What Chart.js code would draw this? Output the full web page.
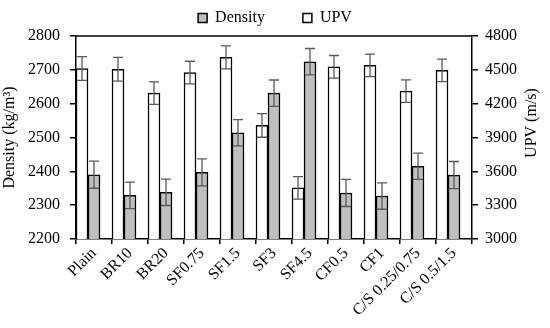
<!DOCTYPE html>
<html>
<head>
<meta charset="utf-8">
<script src="https://cdn.jsdelivr.net/npm/chart.js@4.4.1/dist/chart.umd.min.js"></script>
<style>
  html, body { margin: 0; padding: 0; background: #fff; }
  #wrap { width: 550px; height: 328px; }
</style>
</head>
<body>
<div id="wrap"><canvas id="myChart"></canvas></div>
<script>
const labels = ['Plain', 'BR10', 'BR20', 'SF0.75', 'SF1.5', 'SF3', 'SF4.5', 'CF0.5', 'CF1', 'C/S 0.25/0.75', 'C/S 0.5/1.5'];

// UPV (m/s), right axis
const upv = [4512, 4505, 4293, 4476, 4610, 4007, 3453, 4527, 4539, 4311, 4495];
const upvErr = [105, 105, 100, 100, 102, 105, 100, 100, 100, 100, 100];

// Density (kg/m3), left axis
const density = [2390, 2329, 2338, 2397, 2514, 2631, 2724, 2336, 2327, 2415, 2389];
const densityErr = [40, 39, 39, 40, 39, 39, 39, 40, 39, 39, 40];

const upvTitle = 'UPV (m/s)';

const ctx = document.getElementById('myChart').getContext('2d');
const font = { family: '"Liberation Serif", "Times New Roman", serif', size: 16 };

// draws error bars, the top frame line and the right axis title
const errorBars = {
  id: 'errorBars',
  afterDatasetsDraw(chart) {
    const c = chart.ctx;
    c.save();
    c.strokeStyle = '#595959';
    c.lineWidth = 1.3;
    chart.data.datasets.forEach((ds, i) => {
      if (!ds.err) return;
      const meta = chart.getDatasetMeta(i);
      const scale = chart.scales[meta.yAxisID];
      meta.data.forEach((bar, j) => {
        const v = ds.data[j];
        const e = ds.err[j];
        const yTop = scale.getPixelForValue(v + e);
        const yBot = scale.getPixelForValue(v - e);
        c.beginPath();
        c.moveTo(bar.x, yTop);
        c.lineTo(bar.x, yBot);
        c.moveTo(bar.x - 5, yTop);
        c.lineTo(bar.x + 5, yTop);
        c.moveTo(bar.x - 5, yBot);
        c.lineTo(bar.x + 5, yBot);
        c.stroke();
      });
    });
    const a = chart.chartArea;
    c.strokeStyle = '#000';
    c.lineWidth = 1.5;
    c.beginPath();
    c.moveTo(a.left, a.top);
    c.lineTo(a.right, a.top);
    c.stroke();

    // right title reads bottom-to-top like the left one
    c.translate(chart.scales.y1.right - 18, a.top + 87);
    c.rotate(-Math.PI / 2);
    c.fillStyle = '#000';
    c.font = '16px "Liberation Serif", serif';
    c.textAlign = 'center';
    c.textBaseline = 'middle';
    c.fillText(upvTitle, 0, 0);
    c.restore();
  }
};

const chart = new Chart(ctx, {
  type: 'bar',
  data: {
    labels: labels,
    datasets: [
      {
        label: 'UPV',
        data: upv,
        err: upvErr,
        yAxisID: 'y1',
        backgroundColor: '#ffffff',
        borderColor: '#000000',
        borderWidth: 1.5,
      },
      {
        label: 'Density',
        data: density,
        err: densityErr,
        yAxisID: 'y',
        backgroundColor: '#bfbfbf',
        borderColor: '#000000',
        borderWidth: 1.5,
      },
      {
        // empty spacer slot, keeps the pair at the left of each category
        label: '',
        data: [],
        yAxisID: 'y',
      },
    ],
  },
  options: {
    responsive: true,
    maintainAspectRatio: false,
    animation: false,
    categoryPercentage: 1,
    barPercentage: 1,
    layout: { padding: 0 },
    plugins: {
      tooltip: { enabled: false },
      legend: {
        position: 'top',
        labels: {
          font: font,
          color: '#000',
          boxWidth: 9,
          boxHeight: 9,
          padding: 10,
          // wider gap after the first entry, like the original
          generateLabels: (ch) => {
            const items = Chart.defaults.plugins.legend.labels.generateLabels(ch);
            items.forEach((it) => {
              if (it.text === 'Density') it.text = 'Density\u00a0\u00a0\u00a0\u00a0\u00a0\u00a0\u00a0';
            });
            return items;
          },
          filter: (item) => item.text !== '',
          sort: (a, b) => b.datasetIndex - a.datasetIndex,
        },
      },
    },
    scales: {
      x: {
        grid: { drawOnChartArea: false, color: '#000', tickLength: 5, lineWidth: 1.5 },
        border: { color: '#000', width: 1.5 },
        ticks: { font: font, color: '#000', maxRotation: 45, minRotation: 45, padding: 0 },
        afterFit: (s) => { s.height = 89; },
      },
      y: {
        position: 'left',
        min: 2200,
        max: 2800,
        ticks: { stepSize: 100, font: font, color: '#000', padding: 10, callback: (v) => String(v) },
        grid: { drawOnChartArea: false, color: '#000', tickLength: 6, lineWidth: 1.5 },
        border: { color: '#000', width: 1.5 },
        title: { display: true, text: 'Density (kg/m³)', font: font, color: '#000', padding: { top: 0, bottom: 0 } },
        afterFit: (s) => { s.width = 76; },
      },
      y1: {
        position: 'right',
        min: 3000,
        max: 4800,
        ticks: { stepSize: 300, font: font, color: '#000', padding: 7, callback: (v) => String(v) },
        grid: { drawOnChartArea: false, color: '#000', tickLength: 6, lineWidth: 1.5 },
        border: { color: '#000', width: 1.5 },
        afterFit: (s) => { s.width = 78; },
      },
    },
  },
  plugins: [errorBars],
});
</script>
</body>
</html>
